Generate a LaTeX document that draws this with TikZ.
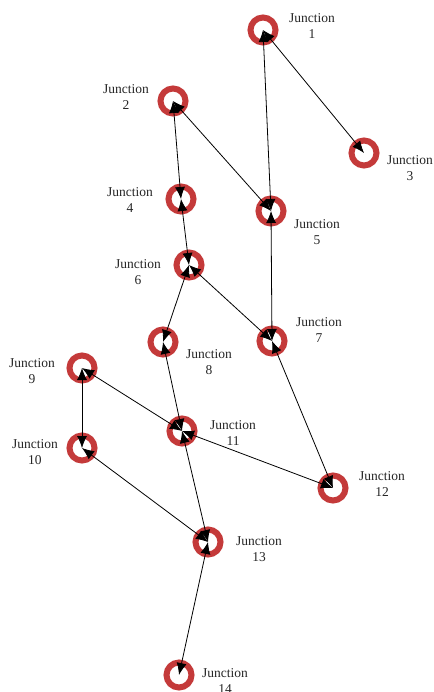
\documentclass[tikz,border=0pt]{standalone}
\usepackage{fontspec}
\setmainfont{Liberation Serif}
\usepackage{xcolor}
\usepackage{tikz}
\usetikzlibrary{arrows.meta}
\definecolor{ringred}{RGB}{196,58,58}

\begin{document}
\begin{tikzpicture}[x=1pt, y=-1pt,
        junction/.style={draw=ringred, circle, line width=6pt, minimum size=25pt, inner sep=0pt},
        jlabel/.style={align=center, text=black!85, font=\fontsize{13.5}{16.5}\selectfont},
        pipe/.style={{Latex[length=12pt,width=10pt]}-{Latex[length=12pt,width=10pt]}, line width=0.8pt}]
        \useasboundingbox (0,0) rectangle (433,692);

        % Junctions
        \node[junction] (j1) at (263,30) {};
        \node[junction] (j2) at (173,101) {};
        \node[junction] (j3) at (364,153) {};
        \node[junction] (j4) at (181,199) {};
        \node[junction] (j5) at (271,211) {};
        \node[junction] (j6) at (189,265) {};
        \node[junction] (j7) at (272,341) {};
        \node[junction] (j8) at (163,342) {};
        \node[junction] (j9) at (82,368) {};
        \node[junction] (j10) at (82,448) {};
        \node[junction] (j11) at (182,431) {};
        \node[junction] (j12) at (333,488) {};
        \node[junction] (j13) at (208,542) {};
        \node[junction] (j14) at (179,675) {};

        % Labels
        \node[jlabel] (l1) at (312,26) {Junction\\1};
        \node[jlabel] (l2) at (126,97) {Junction\\2};
        \node[jlabel] (l3) at (410,168) {Junction\\3};
        \node[jlabel] (l4) at (130,200) {Junction\\4};
        \node[jlabel] (l5) at (317,232) {Junction\\5};
        \node[jlabel] (l6) at (138,272) {Junction\\6};
        \node[jlabel] (l7) at (319,330) {Junction\\7};
        \node[jlabel] (l8) at (209,362) {Junction\\8};
        \node[jlabel] (l9) at (32,371) {Junction\\9};
        \node[jlabel] (l10) at (35,452) {Junction\\10};
        \node[jlabel] (l11) at (233,433) {Junction\\11};
        \node[jlabel] (l12) at (382,484) {Junction\\12};
        \node[jlabel] (l13) at (259,549) {Junction\\13};
        \node[jlabel] (l14) at (225,681) {Junction\\14};

        % Pipes
        \draw[pipe] (j1.center) -- (j3.center);
        \draw[pipe] (j1.center) -- (j5.center);
        \draw[pipe] (j2.center) -- (j4.center);
        \draw[pipe] (j2.center) -- (j5.center);
        \draw[pipe] (j4.center) -- (j6.center);
        \draw[pipe] (j5.center) -- (j7.center);
        \draw[pipe] (j6.center) -- (j7.center);
        \draw[pipe] (j6.center) -- (j8.center);
        \draw[pipe] (j8.center) -- (j11.center);
        \draw[pipe] (j7.center) -- (j12.center);
        \draw[pipe] (j9.center) -- (j10.center);
        \draw[pipe] (j9.center) -- (j11.center);
        \draw[pipe] (j11.center) -- (j12.center);
        \draw[pipe] (j10.center) -- (j13.center);
        \draw[pipe] (j11.center) -- (j13.center);
        \draw[pipe] (j13.center) -- (j14.center);
    \end{tikzpicture}
\end{document}
